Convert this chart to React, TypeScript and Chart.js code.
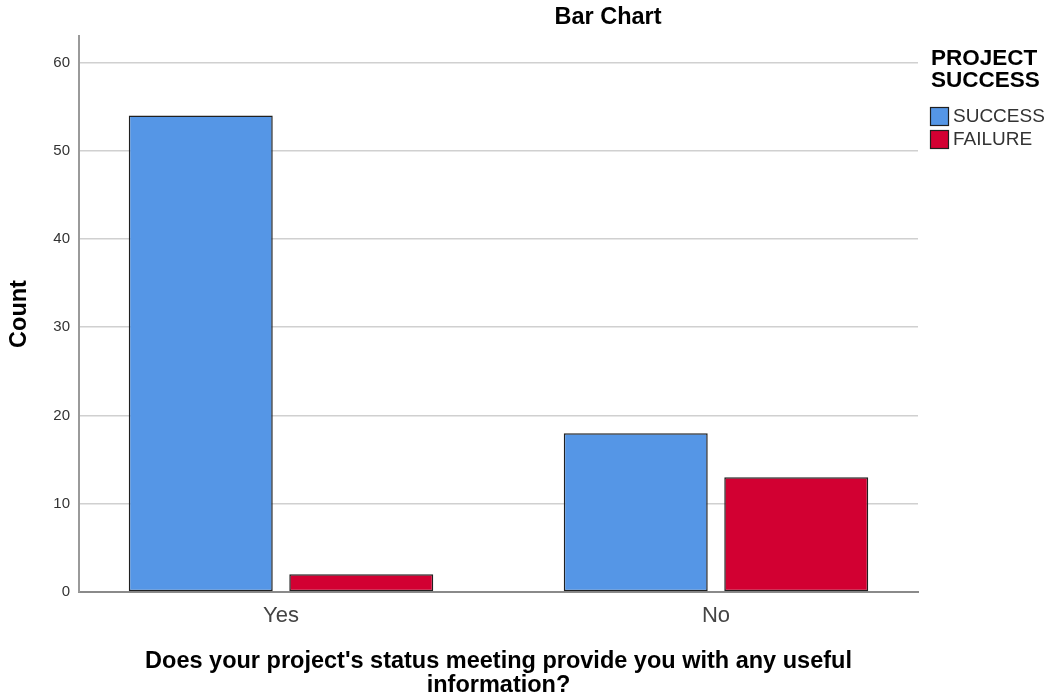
import React, { useEffect, useRef } from "react";
import { Chart, registerables } from "chart.js";

Chart.register(...registerables);

const categories = ["Yes", "No"];
const seriesLabels = ["SUCCESS", "FAILURE"];
const successCounts = [54, 18];
const failureCounts = [2, 13];
const yTicks = [0, 10, 20, 30, 40, 50, 60];
const legendTitle = ["PROJECT", "SUCCESS"];
const chartTitle = "Bar Chart";
const xTitle = ["Does your project's status meeting provide you with any useful", "information?"];
const yTitle = "Count";

const FONT = "'Liberation Sans', Arial, sans-serif";
const colors = ["rgb(85,150,230)", "rgb(210,0,50)"];

const overlayPlugin = {
  id: "overlay",
  afterDraw(chart: any) {
    const ctx = chart.ctx;
    ctx.save();
    ctx.fillStyle = "#000";
    ctx.font = `bold 23.5px ${FONT}`;
    ctx.textAlign = "center";
    ctx.textBaseline = "middle";
    ctx.fillText(chartTitle, 608, 18);
    ctx.textAlign = "left";
    ctx.font = `bold 22.5px ${FONT}`;
    legendTitle.forEach((t, i) => ctx.fillText(t, 931, 59 + i * 22));
    const ds = chart.data.datasets;
    ds.forEach((d: any, i: number) => {
      const y = 107 + i * 23;
      ctx.fillStyle = d.backgroundColor;
      ctx.fillRect(930.5, y + 0.5, 18, 18);
      ctx.strokeStyle = "#1f1f1f";
      ctx.lineWidth = 1.2;
      ctx.strokeRect(930.5, y + 0.5, 18, 18);
      ctx.fillStyle = "#333";
      ctx.font = `19px ${FONT}`;
      ctx.textBaseline = "middle";
      ctx.fillText(d.label, 953, y + 10);
    });
    ctx.restore();
  },
};

export default function App() {
  const ref = useRef<HTMLCanvasElement>(null);
  useEffect(() => {
    if (!ref.current) return;
    const chart = new Chart(ref.current, {
      type: "bar",
      data: {
        datasets: [successCounts, failureCounts].map((vals, s) => ({
          label: seriesLabels[s],
          data: vals.map((v, i) => ({ x: i, y: v })),
          backgroundColor: colors[s],
          borderColor: "#202020",
          borderWidth: 1.5,
          borderSkipped: false,
          categoryPercentage: 0.738,
          barPercentage: 0.897,
        })),
      },
      options: {
        responsive: false,
        animation: false,
        layout: { padding: { top: 36, right: 134, left: 0, bottom: 0 } },
        plugins: {
          legend: { display: false },
          title: { display: false },
          tooltip: { enabled: false },
        },
        scales: {
          x: {
            type: "linear",
            offset: false,
            min: -0.4644,
            max: 1.4644,
            afterBuildTicks: (scale: any) => {
              scale.ticks = categories.map((_, i) => ({ value: i }));
            },
            afterFit: (scale: any) => {
              scale.height = 108;
            },
            ticks: {
              callback: (v: any) => categories[v as number],
              font: { family: FONT, size: 22 },
              color: "#444",
              padding: 11,
              maxRotation: 0,
              autoSkip: false,
            },
            grid: { display: false, drawTicks: false, offset: false },
            border: { display: true, color: "#8a8a8a", width: 2 },
            title: {
              display: true,
              text: xTitle,
              font: { family: FONT, size: 23.5, weight: "bold", lineHeight: 1.0 },
              color: "#000",
              padding: { top: 0, bottom: 3 },
            },
          },
          y: {
            min: 0,
            max: 63,
            afterBuildTicks: (scale: any) => {
              scale.ticks = yTicks.map((v) => ({ value: v }));
            },
            afterFit: (scale: any) => {
              scale.width = 79;
            },
            ticks: {
              font: { family: FONT, size: 15 },
              color: "#333",
              padding: 9,
            },
            grid: { color: "#d0d0d0", lineWidth: 1.5, drawTicks: false },
            border: { display: true, color: "#9a9a9a", width: 2 },
            title: {
              display: true,
              text: yTitle,
              font: { family: FONT, size: 23.5, weight: "bold", lineHeight: 1.0 },
              color: "#000",
              padding: { top: 8, bottom: 0 },
            },
          },
        },
      },
      plugins: [overlayPlugin],
    } as any);
    return () => chart.destroy();
  }, []);
  return (
    <div style={{ position: "absolute", left: 0, top: 0, width: 1052, height: 700, background: "#fff" }}>
      <canvas ref={ref} width={1052} height={700} style={{ width: 1052, height: 700, display: "block" }} />
    </div>
  );
}
